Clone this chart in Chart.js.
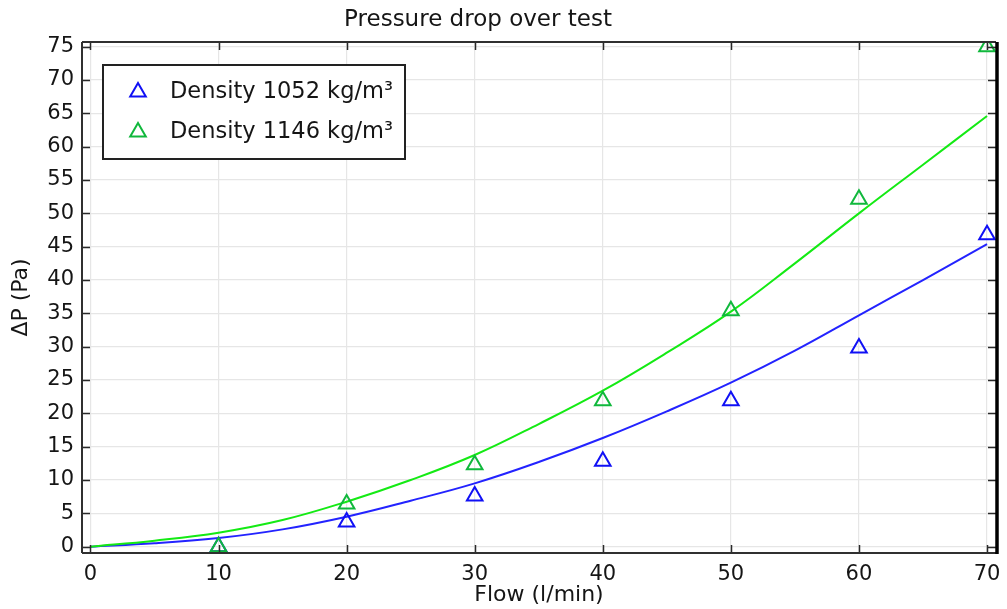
<!DOCTYPE html>
<html><head><meta charset="utf-8">
<script src="https://cdn.jsdelivr.net/npm/chart.js@4.4.1/dist/chart.umd.min.js"></script>
<style>html,body{margin:0;padding:0;background:#fff;overflow:hidden}#wrap{width:1007px;height:609px;position:relative}</style>
</head><body><div id="wrap"><canvas id="c" width="1007" height="609"></canvas></div>
<script>
const chartTitle = 'Pressure drop over test';
const xTitle = 'Flow (l/min)';
const yTitle = 'ΔP (Pa)';
const seriesNames = ['Density 1052 kg/m³', 'Density 1146 kg/m³'];

const flowMeasured = [10, 20, 30, 40, 50, 60, 70];
const dpLow  = [0, 3.7, 7.6, 12.8, 21.9, 29.8, 46.8];
const dpHigh = [0, 6.4, 12.3, 21.9, 35.4, 52.1, 75.0];

const flowFit = [0, 5, 10, 15, 20, 25, 30, 35, 40, 45, 50, 55, 60, 65, 70];
const fitLow  = [0, 0.5, 1.3, 2.6, 4.5, 6.9, 9.5, 12.7, 16.3, 20.3, 24.6, 29.4, 34.7, 40.0, 45.4];
const fitHigh = [0, 0.9, 2.1, 4.0, 6.75, 10.0, 13.75, 18.4, 23.4, 29.1, 35.25, 42.5, 50.0, 57.3, 64.6];

const xTickValues = [0, 10, 20, 30, 40, 50, 60, 70];
const yTickValues = [0, 5, 10, 15, 20, 25, 30, 35, 40, 45, 50, 55, 60, 65, 70, 75];

const BLUE_LINE = '#2323ff', BLUE_MARK = '#1010f5';
const GREEN_LINE = '#14ea14', GREEN_MARK = '#10b83c';
const FONT = 'DejaVu Sans';
const TXT = '#151515';

const pairs = (xs, ys) => xs.map((x, i) => ({x: x, y: ys[i]}));

const framePlugin = {
  id: 'frame',
  afterDatasetsDraw(chart) {
    const {ctx, chartArea: a, scales} = chart;
    ctx.save();
    ctx.strokeStyle = '#2a2a2a';
    ctx.lineWidth = 1.5;
    const tl = 8;
    ctx.beginPath();
    xTickValues.forEach(v => {
      const px = Math.round(scales.x.getPixelForValue(v)) + 0.5;
      ctx.moveTo(px, a.bottom); ctx.lineTo(px, a.bottom - tl);
      ctx.moveTo(px, a.top); ctx.lineTo(px, a.top + tl);
    });
    yTickValues.forEach(v => {
      const py = Math.round(scales.y.getPixelForValue(v)) + 0.5;
      ctx.moveTo(a.left, py); ctx.lineTo(a.left + tl, py);
      ctx.moveTo(a.right, py); ctx.lineTo(a.right - tl, py);
    });
    ctx.stroke();
    ctx.lineWidth = 2;
    ctx.strokeStyle = '#303030';
    ctx.beginPath();
    ctx.moveTo(a.left, a.top); ctx.lineTo(a.right, a.top);
    ctx.moveTo(a.left, a.top); ctx.lineTo(a.left, a.bottom);
    ctx.moveTo(a.left, a.bottom); ctx.lineTo(a.right, a.bottom);
    ctx.stroke();
    ctx.lineWidth = 3.5;
    ctx.strokeStyle = '#000';
    ctx.beginPath();
    ctx.moveTo(a.right + 1, a.top); ctx.lineTo(a.right + 1, a.bottom + 1);
    ctx.stroke();
    ctx.restore();
  },
  afterDraw(chart) {
    const {ctx} = chart;
    ctx.save();
    ctx.fillStyle = TXT;
    ctx.font = '23px "' + FONT + '"';
    ctx.textAlign = 'center';
    ctx.textBaseline = 'middle';
    ctx.fillText(chartTitle, 478, 20);
    const bx = 103, by = 65, bw = 302, bh = 94;
    ctx.fillStyle = '#fff';
    ctx.fillRect(bx, by, bw, bh);
    ctx.strokeStyle = '#222';
    ctx.lineWidth = 2;
    ctx.strokeRect(bx, by, bw, bh);
    const rows = [{y: 92, c: BLUE_MARK, t: chart.data.datasets[2].label},
                  {y: 132, c: GREEN_MARK, t: chart.data.datasets[3].label}];
    rows.forEach(r => {
      const cx = 138, rad = 9;
      ctx.beginPath();
      ctx.moveTo(cx, r.y - rad);
      ctx.lineTo(cx + Math.sin(2 * Math.PI / 3) * rad, r.y + 0.5 * rad);
      ctx.lineTo(cx - Math.sin(2 * Math.PI / 3) * rad, r.y + 0.5 * rad);
      ctx.closePath();
      ctx.strokeStyle = r.c;
      ctx.lineWidth = 2;
      ctx.stroke();
      ctx.fillStyle = TXT;
      ctx.textAlign = 'left';
      ctx.textBaseline = 'middle';
      ctx.font = '22.5px "' + FONT + '"';
      ctx.fillText(r.t, 170, r.y);
    });
    ctx.restore();
  }
};

new Chart(document.getElementById('c'), {
  type: 'scatter',
  data: {
    datasets: [
      {label: seriesNames[0] + ' fit', data: pairs(flowFit, fitLow), showLine: true, borderColor: BLUE_LINE,
       borderWidth: 2, pointRadius: 0, tension: 0.4, fill: false, order: 3},
      {label: seriesNames[1] + ' fit', data: pairs(flowFit, fitHigh), showLine: true, borderColor: GREEN_LINE,
       borderWidth: 2, pointRadius: 0, tension: 0.4, fill: false, order: 2},
      {label: seriesNames[0], data: pairs(flowMeasured, dpLow), showLine: false, pointStyle: 'triangle',
       pointRadius: 9, pointBorderWidth: 2, borderColor: BLUE_MARK, pointBorderColor: BLUE_MARK,
       pointBackgroundColor: 'rgba(0,0,0,0)', backgroundColor: 'rgba(0,0,0,0)', order: 1},
      {label: seriesNames[1], data: pairs(flowMeasured, dpHigh), showLine: false, pointStyle: 'triangle',
       pointRadius: 9, pointBorderWidth: 2, borderColor: GREEN_MARK, pointBorderColor: GREEN_MARK,
       pointBackgroundColor: 'rgba(0,0,0,0)', backgroundColor: 'rgba(0,0,0,0)', order: 0}
    ]
  },
  options: {
    responsive: false,
    devicePixelRatio: 1,
    animation: false,
    layout: {padding: {top: 42, right: 7, bottom: 0, left: 0}},
    plugins: {legend: {display: false}, title: {display: false}, tooltip: {enabled: false}},
    scales: {
      x: {
        type: 'linear', position: 'bottom', min: -0.661, max: 70.70,
        afterBuildTicks: s => { s.ticks = xTickValues.map(v => ({value: v})); },
        afterFit: s => { s.height = 56; s.paddingLeft = 0; s.paddingRight = 0; },
        ticks: {font: {family: FONT, size: 21}, color: TXT, padding: 9, maxRotation: 0, autoSkip: false},
        grid: {color: '#e6e6e6', lineWidth: 1.2, drawTicks: false},
        border: {display: false},
        title: {display: true, text: xTitle, color: TXT, font: {family: FONT, size: 22}, padding: {top: 0, bottom: 1}}
      },
      y: {
        type: 'linear', position: 'left', min: -0.945, max: 75.7,
        afterBuildTicks: s => { s.ticks = yTickValues.map(v => ({value: v})); },
        afterFit: s => { s.width = 82; s.paddingTop = 0; s.paddingBottom = 0; },
        ticks: {font: {family: FONT, size: 21}, color: TXT, padding: 8, autoSkip: false},
        grid: {color: '#e6e6e6', lineWidth: 1.2, drawTicks: false},
        border: {display: false},
        title: {display: true, text: yTitle, color: TXT, font: {family: FONT, size: 22}, padding: {top: 8, bottom: 0}}
      }
    }
  },
  plugins: [framePlugin]
});
</script></body></html>
